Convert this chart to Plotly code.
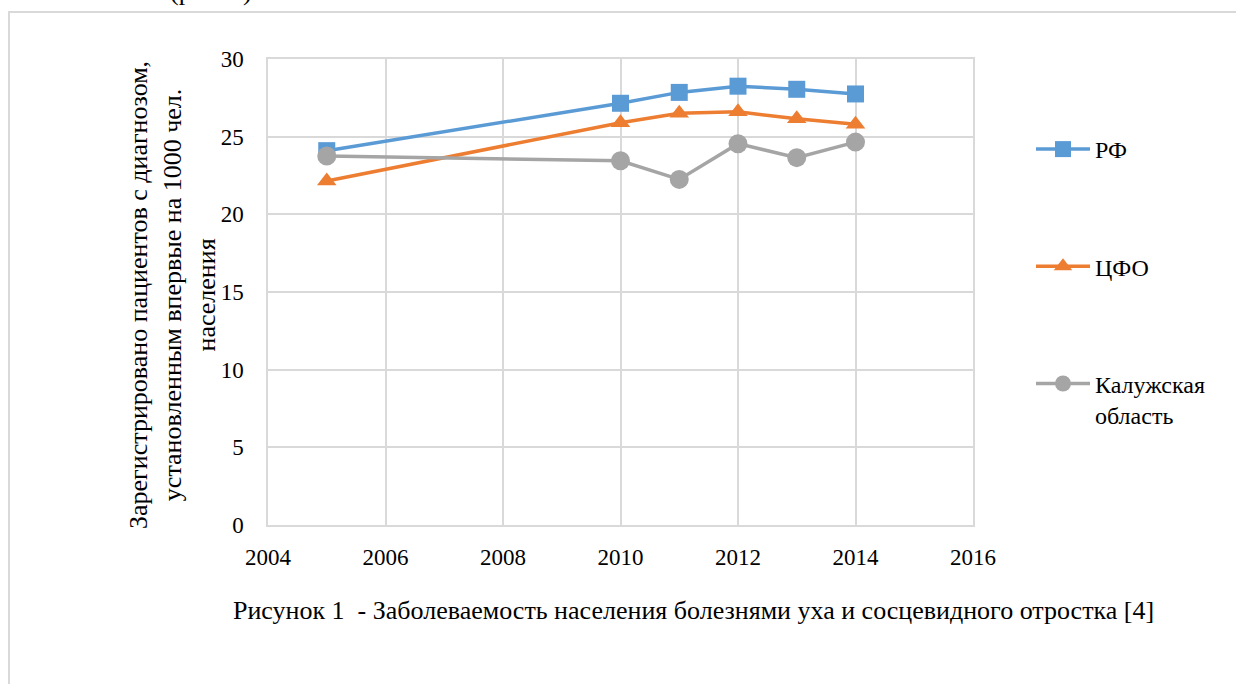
import plotly.graph_objects as go

# Годы наблюдения
years = [2005, 2010, 2011, 2012, 2013, 2014]

# Заболеваемость на 1000 чел. населения
rf = [24.1, 27.15, 27.85, 28.25, 28.05, 27.75]
cfo = [22.15, 25.9, 26.5, 26.6, 26.15, 25.8]
kaluga = [23.75, 23.45, 22.25, 24.55, 23.65, 24.65]

series_names = ["РФ", "ЦФО", "Калужская<br>область"]
series_colors = ["#5B9BD5", "#ED7D31", "#A5A5A5"]
series_symbols = ["square", "triangle-up", "circle"]
series_sizes = [17, 17, 19]

y_title = ("Зарегистрировано пациентов с диагнозом,<br>"
           "установленным впервые на 1000 чел.<br>населения")
caption = ("Рисунок 1  - Заболеваемость населения болезнями уха и "
           "сосцевидного отростка [4]")

W, H = 1236, 684
L, R, T, B = 268, 263, 59, 159
PW, PH = W - L - R, H - T - B
FONT = "Times New Roman, Liberation Serif, DejaVu Serif, serif"


def px_x(px):
    return (px - L) / PW


def px_y(py):
    return (H - B - py) / PH


fig = go.Figure()
for name, vals, color, sym, size in zip(series_names, [rf, cfo, kaluga],
                                        series_colors, series_symbols,
                                        series_sizes):
    fig.add_trace(go.Scatter(
        x=years, y=vals, name=name, mode="lines+markers",
        line=dict(color=color, width=3.5),
        marker=dict(symbol=sym, size=size, color=color,
                    line=dict(width=0)),
        legendgroup=name,
    ))

grid = "#D9D9D9"
fig.update_xaxes(range=[2004, 2016], dtick=2, tick0=2004, showgrid=True,
                 gridcolor=grid, gridwidth=1.5, showline=True,
                 linecolor=grid, linewidth=1.5, mirror=True, zeroline=False,
                 ticks="", ticklabelstandoff=11,
                 tickfont=dict(size=23, color="black", family=FONT))
fig.update_yaxes(range=[0, 30], dtick=5, showgrid=True, gridcolor=grid,
                 gridwidth=1.5, showline=True, linecolor=grid,
                 linewidth=1.5, mirror=True, zeroline=False, ticks="",
                 ticklabelstandoff=18,
                 tickfont=dict(size=23, color="black", family=FONT))

# Заголовок оси Y
fig.add_annotation(text=y_title, xref="paper", yref="paper",
                   x=px_x(172), y=px_y(295), xanchor="center",
                   yanchor="middle", textangle=-90, showarrow=False,
                   font=dict(size=26, color="black", family=FONT))

# Подпись рисунка
fig.add_annotation(text=caption, xref="paper", yref="paper",
                   x=px_x(693), y=px_y(610), xanchor="center",
                   yanchor="middle", showarrow=False,
                   font=dict(size=26, color="black", family=FONT))

# Ссылка на рисунок из предшествующего текста
fig.add_annotation(text="(рис. 1)", xref="paper", yref="paper",
                   x=px_x(211), y=px_y(8), xanchor="center",
                   yanchor="bottom", showarrow=False,
                   font=dict(size=26, color="black", family=FONT))

# Рамка области диаграммы
fig.add_shape(type="rect", xref="paper", yref="paper",
              x0=px_x(9), x1=px_x(W + 20), y0=px_y(H + 20), y1=px_y(12),
              line=dict(color="#D9D9D9", width=2), layer="below")

fig.update_layout(
    width=W, height=H,
    margin=dict(l=L, r=R, t=T, b=B, autoexpand=False),
    paper_bgcolor="white", plot_bgcolor="white",
    font=dict(family=FONT, size=23, color="black"),
    legend=dict(x=px_x(1031), y=px_y(127), xanchor="left", yanchor="top",
                traceorder="grouped", tracegroupgap=83, valign="top",
                font=dict(size=24, color="black", family=FONT),
                itemwidth=54, bgcolor="rgba(0,0,0,0)"),
)

fig.write_html("out.html")
